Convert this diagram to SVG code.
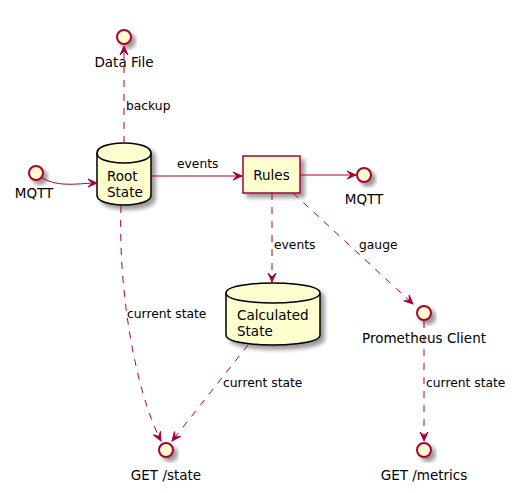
<svg xmlns="http://www.w3.org/2000/svg" width="516" height="493" viewBox="0 0 516 493">
<defs>
<filter id="sh" x="-30%" y="-30%" width="170%" height="170%">
<feGaussianBlur in="SourceAlpha" stdDeviation="2"/>
<feOffset dx="4" dy="4" result="b"/>
<feComponentTransfer><feFuncA type="linear" slope="0.4"/></feComponentTransfer>
<feMerge><feMergeNode/><feMergeNode in="SourceGraphic"/></feMerge>
</filter>
<marker id="ah" viewBox="-10 -5 11 10" refX="0" refY="0" markerWidth="11" markerHeight="10" markerUnits="userSpaceOnUse" orient="auto">
<path d="M0,0 L-9,-4 L-5,0 L-9,4 Z" fill="#A80036" stroke="#A80036" stroke-width="1"/>
</marker>
<style>
.node{fill:#FEFECE;stroke:#A80036;stroke-width:1.5;filter:url(#sh)}
.db{fill:#FEFECE;stroke:#000;stroke-width:1.5;filter:url(#sh)}
.iface{fill:#FEFECE;stroke:#A80036;stroke-width:2;filter:url(#sh)}
.name{font-family:"DejaVu Sans",sans-serif;font-size:13.5px;fill:#000}
.lbl{font-family:"DejaVu Sans",sans-serif;font-size:12.3px;fill:#000}
.e{fill:none;stroke:#A80036;stroke-width:1;marker-end:url(#ah)}
.d{stroke-dasharray:7,7}
</style>
</defs>
<rect width="516" height="493" fill="#fff"/>

<g id="datafile">
<circle class="iface" cx="124" cy="37" r="7"/>
<text class="name" x="124" y="67" text-anchor="middle">Data File</text>
</g>

<g id="mqtt-in">
<circle class="iface" cx="36" cy="173" r="7"/>
<text class="name" x="34" y="198" text-anchor="middle">MQTT</text>
</g>

<g id="rootstate">
<path class="db" d="M97,153 C97,143 124,143 124,143 C124,143 151,143 151,153 L151,195 C151,205 124,205 124,205 C124,205 97,205 97,195 Z"/>
<path d="M97,153 C97,163 124,163 124,163 C124,163 151,163 151,153" fill="none" stroke="#000" stroke-width="1.5"/>
<text class="name" x="107" y="181">Root</text>
<text class="name" x="107" y="197">State</text>
</g>

<g id="rules">
<rect class="node" x="243" y="156" width="57" height="37"/>
<text class="name" x="271.5" y="180" text-anchor="middle">Rules</text>
</g>

<g id="mqtt-out">
<circle class="iface" cx="364" cy="175" r="7"/>
<text class="name" x="364" y="204" text-anchor="middle">MQTT</text>
</g>

<g id="calcstate">
<path class="db" d="M226,293 C226,283 273,283 273,283 C273,283 320,283 320,293 L320,335 C320,345 273,345 273,345 C273,345 226,345 226,335 Z"/>
<path d="M226,293 C226,303 273,303 273,303 C273,303 320,303 320,293" fill="none" stroke="#000" stroke-width="1.5"/>
<text class="name" x="237" y="320">Calculated</text>
<text class="name" x="237" y="336">State</text>
</g>

<g id="prometheus">
<circle class="iface" cx="424" cy="313" r="7"/>
<text class="name" x="424" y="343" text-anchor="middle">Prometheus Client</text>
</g>

<g id="getstate">
<circle class="iface" cx="166" cy="450" r="7"/>
<text class="name" x="166" y="480" text-anchor="middle">GET /state</text>
</g>

<g id="getmetrics">
<circle class="iface" cx="424" cy="450" r="7"/>
<text class="name" x="424" y="480" text-anchor="middle">GET /metrics</text>
</g>

<g id="connectors">
<path class="e d" d="M124,143 L124,46"/>
<text class="lbl" x="126" y="110">backup</text>
<path class="e" d="M42,178 C60,188 80,183 97,183"/>
<path class="e" d="M151,176 L242,176"/>
<text class="lbl" x="177" y="168">events</text>
<path class="e" d="M300,175 L356,175"/>
<path class="e d" d="M272,193 L272,282"/>
<text class="lbl" x="274" y="249">events</text>
<path class="e d" d="M293,193 L413,304"/>
<text class="lbl" x="359" y="249">gauge</text>
<path class="e d" d="M121,206 C118,290 135,390 161,441"/>
<text class="lbl" x="127" y="318">current state</text>
<path class="e d" d="M248,345 L172,441"/>
<text class="lbl" x="223" y="387">current state</text>
<path class="e d" d="M424,321 L424,441"/>
<text class="lbl" x="426" y="387">current state</text>
</g>
</svg>
